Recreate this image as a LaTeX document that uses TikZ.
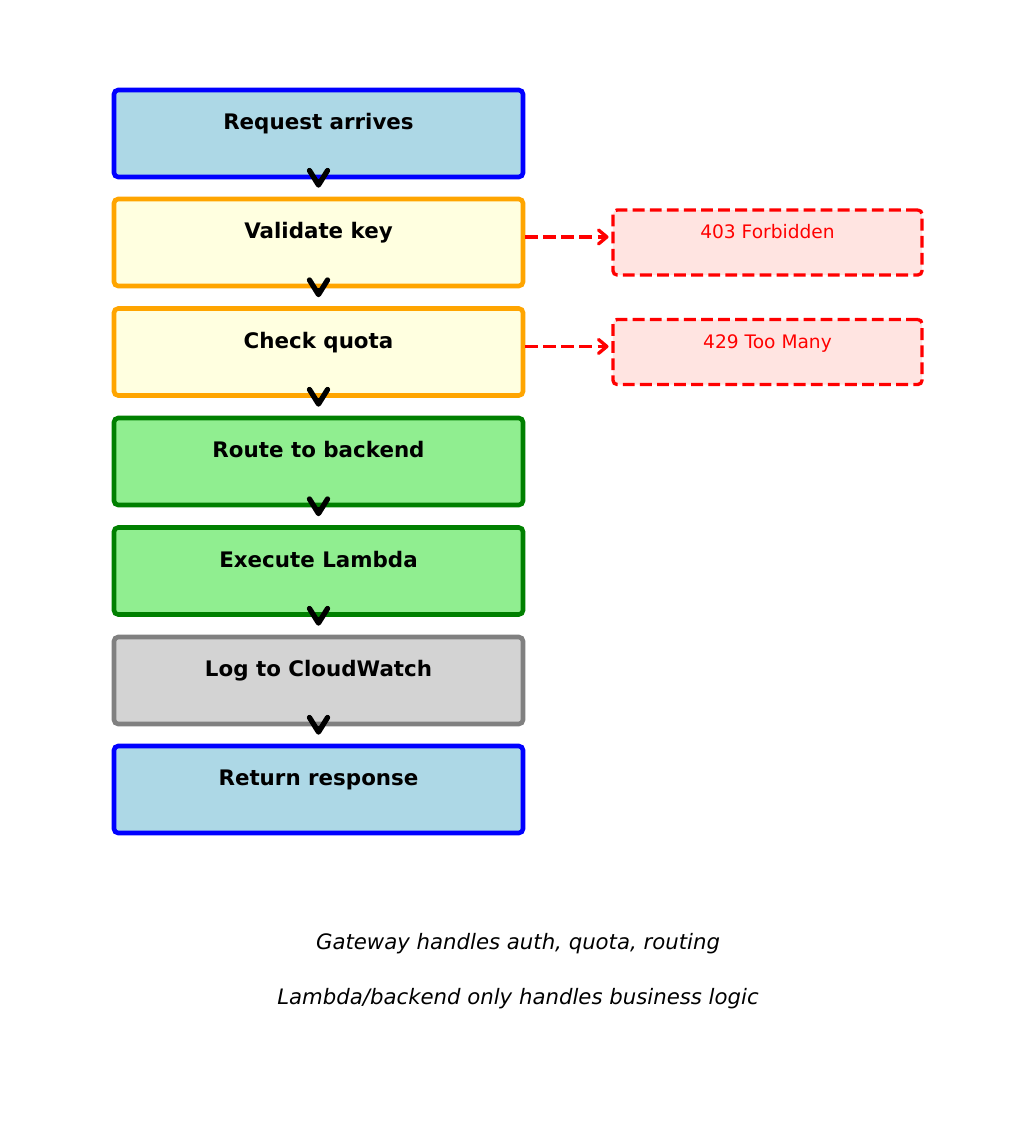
\documentclass[tikz,border=0pt]{standalone}
\usepackage{fontspec}
\setmainfont{DejaVu Sans}
\usetikzlibrary{arrows.meta}

\definecolor{boxblue}{HTML}{ADD8E6}
\definecolor{boxyellow}{HTML}{FFFFE0}
\definecolor{boxgreen}{HTML}{90EE90}
\definecolor{boxgray}{HTML}{D3D3D3}
\definecolor{boxrose}{HTML}{FFE4E1}
\definecolor{edgeorange}{HTML}{FFA500}
\definecolor{edgegreen}{HTML}{008000}
\definecolor{edgegray}{HTML}{808080}

\begin{document}
\begin{tikzpicture}[x=0.72pt,y=-0.72pt,
	step box/.style={draw,line width=3.3pt,rounded corners=3pt,inner sep=0pt,
		minimum width=294.5pt,minimum height=62.6pt,
		text height=28.7pt,text depth=33.9pt,font=\fontsize{15.4}{18}\selectfont\bfseries},
	err box/.style={draw=red,fill=boxrose,line width=2.4pt,dash pattern=on 8.5pt off 3.8pt,
		rounded corners=3pt,inner sep=0pt,minimum width=222.5pt,minimum height=46.8pt,
		text height=20.8pt,text depth=26pt,text=red,font=\fontsize{13.4}{16}\selectfont},
	flow/.style={line width=3.8pt,-{Straight Barb[length=10.5pt,width=13pt,line join=round,line cap=round]},shorten >=6.5pt},
	reject/.style={red,line width=2.4pt,dash pattern=on 9pt off 4pt,
		-{Straight Barb[length=6pt,width=10pt,line join=round,line cap=round,sep=2pt]}},
	note/.style={font=\fontsize{15.3}{18}\selectfont\itshape}]
	\useasboundingbox (0,0) rectangle (1036,1132);

	\node[step box,draw=blue,fill=boxblue](req) at (318.5,133.5) {Request arrives};
	\node[step box,draw=edgeorange,fill=boxyellow](key) at (318.5,242.5) {Validate key};
	\node[step box,draw=edgeorange,fill=boxyellow](quota) at (318.5,352) {Check quota};
	\node[step box,draw=edgegreen,fill=boxgreen](route) at (318.5,461.5) {Route to backend};
	\node[step box,draw=edgegreen,fill=boxgreen](lambda) at (318.5,571) {Execute Lambda};
	\node[step box,draw=edgegray,fill=boxgray](log) at (318.5,680.5) {Log to CloudWatch};
	\node[step box,draw=blue,fill=boxblue](resp) at (318.5,789.5) {Return response};

	\node[err box](forbid) at (767.5,242.5) {403 Forbidden};
	\node[err box](toomany) at (767.5,352) {429 Too Many};

	\node[note](gw) at (518,943.5) {Gateway handles auth, quota, routing};
	\node[note](biz) at (518,998.5) {Lambda/backend only handles business logic};

	\draw[flow] (req.south) -- (key.north);
	\draw[flow] (key.south) -- (quota.north);
	\draw[flow] (quota.south) -- (route.north);
	\draw[flow] (route.south) -- (lambda.north);
	\draw[flow] (lambda.south) -- (log.north);
	\draw[flow] (log.south) -- (resp.north);

	\draw[reject] ([yshift=4pt]key.east) -- ([yshift=4pt]forbid.west);
	\draw[reject] ([yshift=4pt]quota.east) -- ([yshift=4pt]toomany.west);
\end{tikzpicture}
\end{document}
